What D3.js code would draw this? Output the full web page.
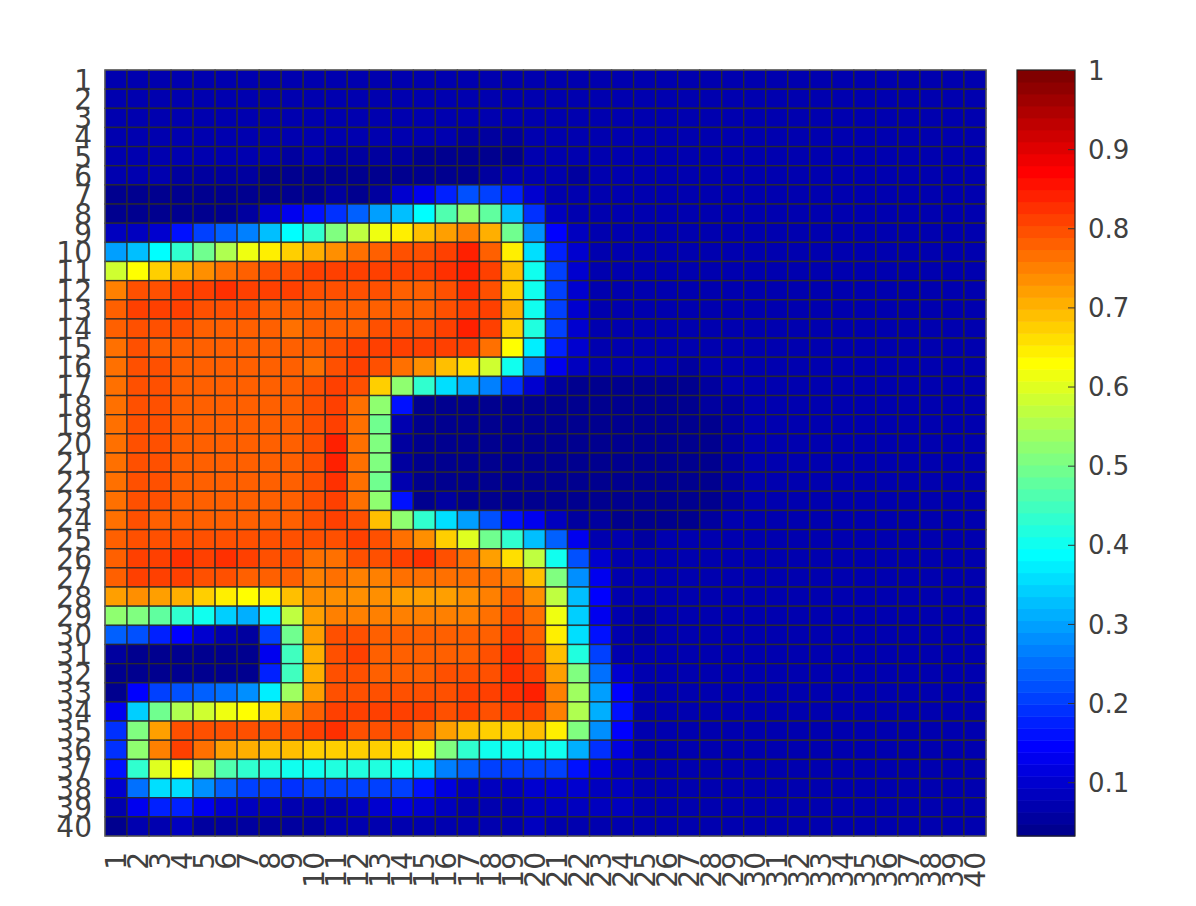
<!DOCTYPE html>
<html>
<head>
<meta charset="utf-8">
<title>Heatmap</title>
<script src="https://d3js.org/d3.v7.min.js"></script>
<style>
  body { margin: 0; background: #fff; }
  text { font-family: "DejaVu Sans", sans-serif; }
</style>
</head>
<body>
<div id="chart"></div>
<script>
// tick labels
const xLabels = ["1","2","3","4","5","6","7","8","9","10","11","12","13","14","15","16","17","18","19","20","21","22","23","24","25","26","27","28","29","30","31","32","33","34","35","36","37","38","39","40"];
const yLabels = xLabels.slice();
const barTicks = [0.1,0.2,0.3,0.4,0.5,0.6,0.7,0.8,0.9,1];
const valueRange = [0.032,1];

// cell values
const row01 = [.075,.075,.075,.075,.075,.075,.075,.075,.075,.075,.075,.075,.075,.075,.075,.075,.075,.075,.075,.075,.075,.075,.075,.075,.075,.075,.075,.075,.075,.075,.075,.075,.075,.075,.075,.075,.075,.075,.075,.075];
const row02 = [.075,.075,.075,.075,.075,.075,.075,.075,.075,.075,.075,.075,.075,.075,.075,.075,.075,.075,.075,.075,.075,.075,.075,.075,.075,.075,.075,.075,.075,.075,.075,.075,.075,.075,.075,.075,.075,.075,.075,.075];
const row03 = [.075,.075,.075,.075,.075,.075,.075,.075,.075,.075,.075,.075,.075,.075,.075,.075,.075,.075,.075,.075,.075,.075,.075,.075,.075,.075,.075,.075,.075,.075,.075,.075,.075,.075,.075,.075,.075,.075,.075,.075];
const row04 = [.075,.075,.075,.075,.075,.075,.075,.075,.075,.075,.075,.07,.07,.07,.065,.065,.055,.06,.055,.07,.075,.075,.075,.075,.075,.075,.075,.075,.075,.075,.075,.075,.075,.075,.075,.075,.075,.075,.075,.075];
const row05 = [.075,.075,.075,.075,.075,.075,.07,.065,.06,.065,.055,.06,.05,.05,.04,.04,.04,.035,.045,.07,.065,.07,.075,.075,.075,.075,.075,.075,.075,.075,.075,.075,.075,.075,.075,.075,.075,.075,.075,.075];
const row06 = [.07,.065,.07,.06,.055,.05,.05,.04,.04,.04,.035,.035,.035,.035,.035,.04,.04,.06,.07,.07,.065,.06,.07,.075,.075,.075,.075,.075,.075,.075,.075,.075,.075,.075,.075,.075,.075,.075,.075,.075];
const row07 = [.04,.045,.04,.04,.035,.035,.035,.04,.035,.04,.05,.045,.06,.105,.135,.175,.215,.21,.17,.105,.07,.07,.07,.075,.075,.075,.075,.075,.075,.075,.075,.075,.075,.075,.075,.075,.075,.075,.075,.075];
const row08 = [.035,.035,.035,.035,.04,.045,.06,.105,.135,.16,.19,.24,.29,.32,.38,.46,.52,.48,.33,.185,.08,.07,.07,.075,.075,.075,.075,.075,.075,.075,.075,.075,.075,.075,.075,.075,.075,.075,.075,.075];
const row09 = [.08,.08,.105,.16,.205,.24,.27,.33,.39,.44,.51,.57,.61,.637,.685,.718,.75,.70,.495,.28,.14,.08,.07,.075,.075,.075,.075,.075,.075,.075,.075,.075,.075,.075,.075,.075,.075,.075,.075,.075];
const row10 = [.29,.33,.38,.43,.5,.56,.61,.64,.68,.70,.73,.76,.78,.80,.80,.815,.835,.78,.64,.35,.17,.10,.07,.075,.075,.075,.075,.075,.075,.075,.075,.075,.075,.075,.075,.075,.075,.075,.075,.075];
const row11 = [.59,.63,.68,.70,.73,.76,.775,.79,.795,.81,.81,.815,.805,.815,.815,.82,.835,.81,.685,.395,.205,.10,.07,.075,.075,.075,.075,.075,.075,.075,.075,.075,.075,.075,.075,.075,.075,.075,.075,.075];
const row12 = [.75,.795,.795,.81,.815,.82,.815,.815,.815,.795,.795,.795,.80,.78,.78,.80,.82,.80,.68,.41,.21,.10,.07,.075,.075,.075,.075,.075,.075,.075,.075,.075,.075,.075,.075,.075,.075,.075,.075,.075];
const row13 = [.78,.815,.815,.815,.80,.795,.795,.785,.785,.775,.78,.775,.775,.78,.78,.80,.815,.815,.70,.41,.21,.10,.07,.075,.075,.075,.075,.075,.075,.075,.075,.075,.075,.075,.075,.075,.075,.075,.075,.075];
const row14 = [.775,.80,.795,.80,.78,.78,.775,.775,.77,.775,.775,.785,.795,.80,.80,.815,.835,.815,.68,.415,.205,.10,.07,.075,.075,.075,.075,.075,.075,.075,.075,.075,.075,.075,.075,.075,.075,.075,.075,.075];
const row15 = [.77,.795,.78,.78,.78,.775,.78,.78,.775,.78,.795,.815,.81,.815,.815,.815,.815,.77,.625,.365,.17,.10,.07,.075,.075,.075,.075,.075,.075,.075,.075,.075,.075,.075,.075,.075,.075,.075,.075,.075];
const row16 = [.77,.80,.80,.78,.78,.78,.78,.775,.775,.77,.795,.815,.795,.76,.73,.685,.665,.59,.41,.25,.135,.08,.07,.075,.075,.075,.06,.075,.075,.075,.075,.075,.075,.075,.075,.075,.075,.075,.075,.075];
const row17 = [.77,.795,.795,.78,.78,.78,.78,.78,.775,.795,.815,.80,.68,.525,.43,.35,.315,.265,.19,.105,.05,.045,.04,.04,.035,.04,.045,.06,.075,.075,.075,.075,.075,.075,.075,.075,.075,.075,.075,.075];
const row18 = [.77,.795,.795,.78,.78,.78,.78,.78,.775,.795,.815,.765,.525,.155,.04,.04,.04,.035,.035,.035,.035,.035,.035,.035,.035,.035,.035,.05,.06,.075,.075,.075,.075,.075,.075,.075,.075,.075,.075,.075];
const row19 = [.77,.795,.795,.78,.78,.78,.78,.78,.775,.795,.815,.765,.49,.065,.035,.035,.035,.035,.035,.035,.035,.035,.035,.035,.035,.035,.035,.045,.06,.075,.075,.075,.075,.075,.075,.075,.075,.075,.075,.075];
const row20 = [.77,.795,.795,.78,.78,.78,.78,.78,.775,.80,.835,.765,.505,.06,.035,.035,.035,.035,.035,.035,.035,.035,.035,.035,.035,.035,.035,.045,.06,.075,.075,.075,.075,.075,.075,.075,.075,.075,.075,.075];
const row21 = [.77,.795,.795,.78,.78,.78,.78,.78,.775,.80,.84,.77,.505,.06,.035,.035,.035,.035,.035,.035,.035,.035,.035,.035,.035,.035,.035,.04,.06,.075,.075,.075,.075,.075,.075,.075,.075,.075,.075,.075];
const row22 = [.77,.795,.795,.78,.78,.78,.78,.78,.775,.795,.82,.765,.49,.065,.035,.035,.035,.035,.035,.035,.035,.035,.035,.035,.035,.035,.035,.04,.06,.075,.075,.075,.075,.075,.075,.075,.075,.075,.075,.075];
const row23 = [.77,.795,.795,.78,.78,.78,.78,.78,.775,.795,.815,.765,.525,.155,.045,.05,.04,.035,.035,.035,.035,.035,.035,.035,.035,.035,.035,.04,.06,.075,.075,.075,.075,.075,.075,.075,.075,.075,.075,.075];
const row24 = [.77,.795,.78,.78,.78,.78,.78,.78,.775,.795,.815,.80,.69,.52,.43,.35,.29,.225,.16,.13,.08,.055,.05,.045,.04,.04,.04,.06,.075,.075,.075,.075,.075,.075,.075,.075,.075,.075,.075,.075];
const row25 = [.785,.79,.795,.80,.795,.80,.795,.80,.80,.795,.795,.815,.80,.76,.73,.68,.60,.495,.43,.33,.235,.135,.07,.065,.06,.065,.065,.07,.075,.075,.075,.075,.075,.075,.075,.075,.075,.075,.075,.075];
const row26 = [.775,.81,.815,.82,.815,.82,.815,.795,.795,.77,.77,.795,.80,.815,.82,.80,.77,.715,.665,.575,.395,.22,.105,.07,.07,.075,.075,.075,.075,.075,.075,.075,.075,.075,.075,.075,.075,.075,.075,.075];
const row27 = [.78,.81,.81,.815,.80,.795,.78,.78,.775,.755,.76,.755,.755,.76,.76,.76,.76,.76,.75,.69,.51,.28,.135,.07,.07,.075,.075,.075,.075,.075,.075,.075,.075,.075,.075,.075,.075,.075,.075,.075];
const row28 = [.715,.73,.72,.70,.675,.645,.63,.645,.69,.735,.735,.735,.73,.715,.715,.715,.73,.75,.78,.735,.575,.32,.14,.07,.065,.07,.075,.075,.075,.075,.075,.075,.075,.075,.075,.075,.075,.075,.075,.075];
const row29 = [.525,.515,.48,.43,.395,.335,.305,.365,.575,.725,.755,.755,.75,.75,.75,.75,.75,.76,.80,.76,.62,.335,.13,.065,.06,.065,.075,.075,.075,.075,.075,.075,.075,.075,.075,.075,.075,.075,.075,.075];
const row30 = [.23,.215,.17,.14,.10,.065,.06,.205,.495,.715,.795,.79,.785,.78,.78,.78,.78,.78,.815,.78,.64,.35,.155,.07,.06,.07,.075,.075,.075,.075,.075,.075,.075,.075,.075,.075,.075,.075,.075,.075];
const row31 = [.05,.035,.035,.035,.035,.035,.035,.135,.45,.70,.80,.81,.785,.78,.78,.78,.78,.795,.82,.795,.685,.415,.205,.075,.07,.075,.075,.075,.075,.075,.075,.075,.075,.075,.075,.075,.075,.075,.075,.075];
const row32 = [.035,.035,.035,.035,.035,.035,.035,.17,.45,.70,.80,.795,.785,.78,.78,.79,.80,.80,.82,.81,.725,.51,.25,.10,.07,.075,.075,.075,.075,.075,.075,.075,.075,.075,.075,.075,.075,.075,.075,.075];
const row33 = [.035,.14,.205,.22,.235,.25,.28,.37,.54,.725,.795,.795,.795,.795,.795,.80,.805,.815,.82,.84,.75,.54,.30,.15,.075,.07,.075,.075,.075,.075,.075,.075,.075,.075,.075,.075,.075,.075,.075,.075];
const row34 = [.13,.335,.50,.56,.585,.615,.63,.665,.73,.785,.81,.81,.81,.81,.815,.80,.805,.795,.815,.81,.755,.56,.315,.155,.075,.07,.075,.075,.075,.075,.075,.075,.075,.075,.075,.075,.075,.075,.075,.075];
const row35 = [.19,.51,.725,.80,.79,.80,.795,.80,.80,.815,.82,.795,.795,.80,.77,.725,.695,.68,.68,.69,.64,.51,.28,.14,.075,.075,.075,.075,.075,.075,.075,.075,.075,.075,.075,.075,.075,.075,.075,.075];
const row36 = [.19,.525,.755,.815,.77,.725,.71,.69,.69,.68,.67,.675,.675,.66,.62,.51,.43,.41,.41,.41,.395,.305,.19,.12,.075,.07,.075,.075,.075,.075,.075,.075,.075,.075,.075,.075,.075,.075,.075,.075];
const row37 = [.155,.43,.60,.63,.56,.47,.43,.415,.41,.41,.415,.415,.415,.395,.35,.265,.23,.20,.20,.205,.20,.155,.12,.08,.07,.075,.075,.075,.075,.075,.075,.075,.075,.075,.075,.075,.075,.075,.075,.075];
const row38 = [.105,.25,.35,.355,.28,.23,.20,.205,.195,.20,.20,.20,.21,.21,.16,.12,.085,.08,.08,.10,.10,.10,.085,.085,.075,.075,.075,.075,.075,.075,.075,.075,.075,.075,.075,.075,.075,.075,.075,.075];
const row39 = [.065,.125,.17,.17,.13,.10,.08,.08,.075,.075,.075,.08,.10,.11,.10,.08,.07,.07,.07,.08,.08,.08,.08,.08,.075,.075,.075,.075,.075,.075,.075,.075,.075,.075,.075,.075,.075,.075,.075,.075];
const row40 = [.04,.07,.075,.08,.06,.06,.055,.055,.05,.06,.065,.065,.07,.07,.07,.07,.075,.075,.075,.08,.075,.075,.075,.075,.075,.075,.075,.075,.075,.075,.075,.075,.075,.075,.075,.075,.075,.075,.075,.075];

const rows = [row01,row02,row03,row04,row05,row06,row07,row08,row09,row10,row11,row12,row13,row14,row15,row16,row17,row18,row19,row20,row21,row22,row23,row24,row25,row26,row27,row28,row29,row30,row31,row32,row33,row34,row35,row36,row37,row38,row39,row40];

var width = 1196, height = 906;
var plot = {left: 105, right: 986, top: 70, bottom: 836};
var bar = {left: 1017, right: 1075};

var svg = d3.select("#chart").append("svg")
    .attr("width", width)
    .attr("height", height)
    .style("display", "block");

// 64 step jet colormap
var clamp = function(v) { return Math.max(0, Math.min(1, v)); };
var jet = d3.range(64).map(function(i) {
    var t = (i + 1) / 64;
    return d3.rgb(
        255 * clamp(Math.min(4 * t - 1.5, -4 * t + 4.5)),
        255 * clamp(Math.min(4 * t - 0.5, -4 * t + 3.5)),
        255 * clamp(Math.min(4 * t + 0.5, -4 * t + 2.5))
    ).formatHex();
});
var color = d3.scaleQuantize().domain(valueRange).range(jet);

var x = d3.scaleBand().domain(xLabels).range([plot.left, plot.right]);
var y = d3.scaleBand().domain(yLabels).range([plot.top, plot.bottom]);

// cells
var cells = [];
rows.forEach(function(row, r) {
    row.forEach(function(v, c) {
        cells.push({row: yLabels[r], col: xLabels[c], value: v});
    });
});
svg.append("g").selectAll("rect")
    .data(cells)
    .enter().append("rect")
    .attr("x", function(d) { return x(d.col); })
    .attr("y", function(d) { return y(d.row); })
    .attr("width", x.bandwidth())
    .attr("height", y.bandwidth())
    .attr("fill", function(d) { return color(d.value); })
    .attr("stroke", "#2a2a2a")
    .attr("stroke-opacity", 0.85)
    .attr("stroke-width", 1.4);

// axes
var xAxis = svg.append("g")
    .attr("transform", "translate(0," + plot.bottom + ")")
    .call(d3.axisBottom(x).tickSize(0).tickPadding(0));
xAxis.selectAll("text")
    .attr("transform", "rotate(-90)")
    .attr("x", -16)
    .attr("y", 0)
    .attr("dy", "0.36em")
    .style("text-anchor", "end");

var yAxis = svg.append("g")
    .attr("transform", "translate(" + plot.left + ",0)")
    .call(d3.axisLeft(y).tickSize(0).tickPadding(13));
yAxis.selectAll("text").attr("dy", "0.37em");

[xAxis, yAxis].forEach(function(a) {
    a.select(".domain").remove();
    a.selectAll("text").attr("font-size", 28).attr("fill", "#404040").attr("font-family", "DejaVu Sans");
});

svg.append("rect")
    .attr("x", plot.left)
    .attr("y", plot.top)
    .attr("width", plot.right - plot.left)
    .attr("height", plot.bottom - plot.top)
    .attr("fill", "none")
    .attr("stroke", "#666")
    .attr("stroke-width", 1);

// colorbar
var barY = d3.scaleLinear().domain(valueRange).range([plot.bottom, plot.top]);
var step = (valueRange[1] - valueRange[0]) / 64;
svg.append("g").selectAll("rect")
    .data(jet)
    .enter().append("rect")
    .attr("x", bar.left)
    .attr("width", bar.right - bar.left)
    .attr("y", function(d, i) { return barY(valueRange[0] + (i + 1) * step); })
    .attr("height", barY(valueRange[0]) - barY(valueRange[0] + step) + 0.5)
    .attr("fill", function(d) { return d; });

svg.append("rect")
    .attr("x", bar.left)
    .attr("y", plot.top)
    .attr("width", bar.right - bar.left)
    .attr("height", plot.bottom - plot.top)
    .attr("fill", "none")
    .attr("stroke", "#222")
    .attr("stroke-width", 1.2);

var barAxis = svg.append("g")
    .attr("transform", "translate(" + bar.right + ",0)")
    .call(d3.axisRight(barY).tickValues(barTicks).tickFormat(function(d) { return d; }).tickSizeInner(-7).tickSizeOuter(0).tickPadding(13));
barAxis.select(".domain").remove();
barAxis.selectAll("line").attr("stroke", "#333");
barAxis.selectAll("text").attr("font-size", 26).attr("dy", "0.35em").attr("fill", "#404040").attr("font-family", "DejaVu Sans");
</script>
</body>
</html>
